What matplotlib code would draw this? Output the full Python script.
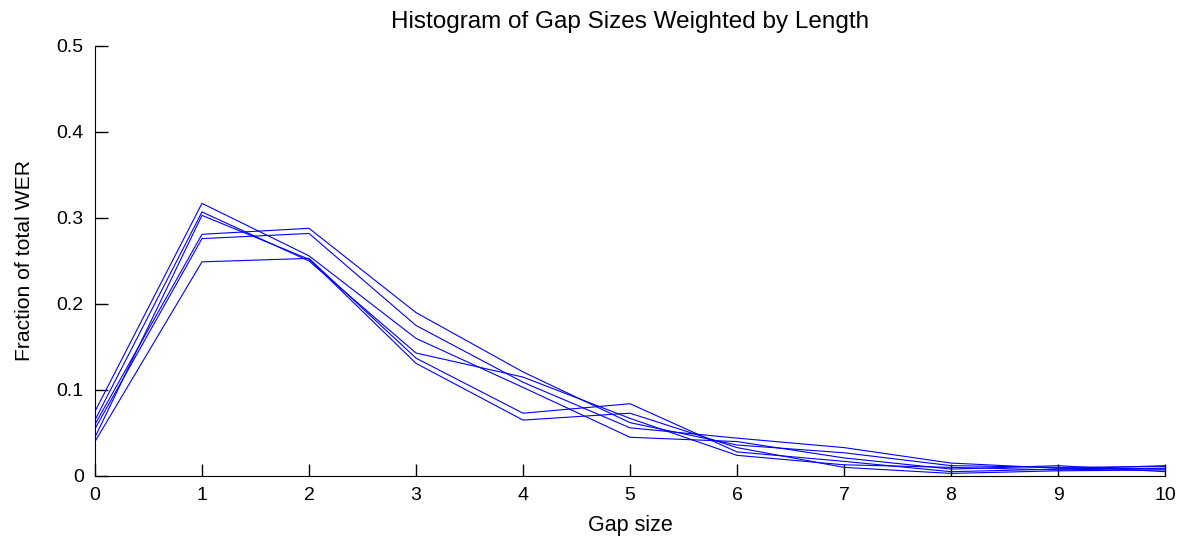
import numpy as np
import matplotlib
matplotlib.use('Agg')
import matplotlib.pyplot as plt

matplotlib.rc('font', family=['Liberation Sans', 'DejaVu Sans'], size=14)

gap = np.arange(0, 11)

# one curve per run
run_a = [0.040, 0.249, 0.253, 0.137, 0.073, 0.084, 0.028, 0.017, 0.005, 0.008, 0.012]
run_b = [0.060, 0.281, 0.288, 0.190, 0.121, 0.062, 0.036, 0.027, 0.012, 0.010, 0.011]
run_c = [0.055, 0.276, 0.282, 0.175, 0.109, 0.056, 0.044, 0.033, 0.015, 0.009, 0.008]
run_d = [0.075, 0.317, 0.256, 0.160, 0.103, 0.045, 0.040, 0.021, 0.008, 0.012, 0.005]
run_e = [0.065, 0.307, 0.250, 0.143, 0.115, 0.067, 0.024, 0.013, 0.010, 0.007, 0.009]
run_f = [0.045, 0.303, 0.252, 0.131, 0.065, 0.073, 0.033, 0.010, 0.003, 0.006, 0.007]

yticks = [0, 0.1, 0.2, 0.3, 0.4, 0.5]
yticklabels = ['0', '0.1', '0.2', '0.3', '0.4', '0.5']

fig = plt.figure(figsize=(11.84, 5.42), dpi=100)
ax = fig.add_axes([0.0802, 0.1218, 0.9038, 0.7934])

for run in [run_a, run_b, run_c, run_d, run_e, run_f]:
    ax.plot(gap, run, color='#0000ff', linewidth=0.8)

ax.set_xlim(0, 10)
ax.set_ylim(0, 0.5)
ax.set_xticks(gap)
ax.set_yticks(yticks)
ax.set_yticklabels(yticklabels)
ax.spines['top'].set_visible(False)
ax.spines['right'].set_visible(False)
ax.tick_params(direction='in', length=9, width=1, pad=8)
ax.set_xlabel('Gap size', fontsize=15.5, labelpad=8)
ax.set_ylabel('Fraction of total WER', fontsize=15.2, labelpad=16)
ax.set_title('Histogram of Gap Sizes Weighted by Length', fontsize=17.5, pad=13)

fig.savefig('out.png', dpi=100)
